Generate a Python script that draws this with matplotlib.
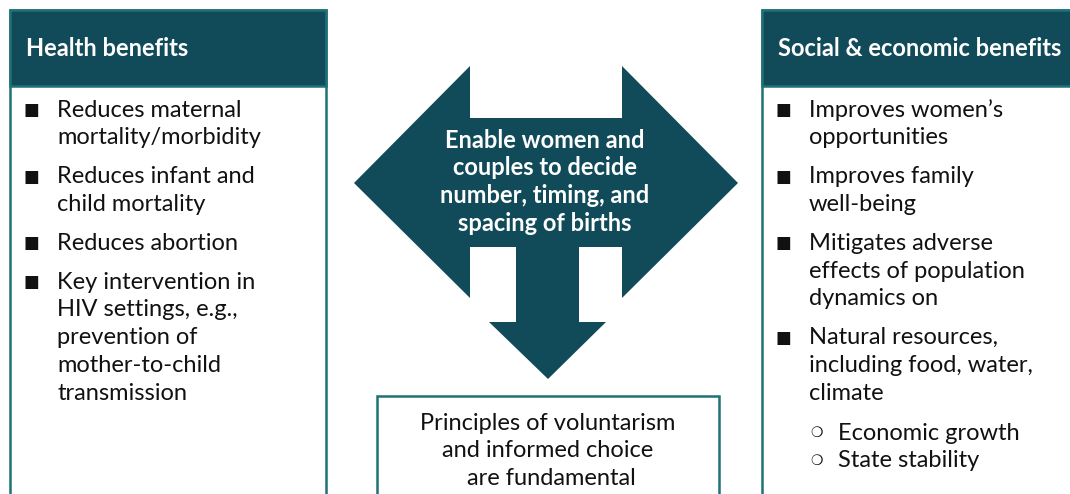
import matplotlib.pyplot as plt
from matplotlib.patches import Rectangle, Polygon

# text content
left_title = 'Health benefits'
right_title = 'Social & economic benefits'
left_items = [
    ['Reduces maternal', 'mortality/morbidity'],
    ['Reduces infant and', 'child mortality'],
    ['Reduces abortion'],
    ['Key intervention in', 'HIV settings, e.g.,', 'prevention of',
     'mother-to-child', 'transmission'],
]
right_items = [
    ['Improves women\u2019s', 'opportunities'],
    ['Improves family', 'well-being'],
    ['Mitigates adverse', 'effects of population', 'dynamics on'],
    ['Natural resources,', 'including food, water,', 'climate'],
]
right_subitems = ['Economic growth', 'State stability']
center_lines = ['Enable women and', 'couples to decide',
                'number, timing, and', 'spacing of births']
bottom_lines = ['Principles of voluntarism', 'and informed choice',
                ' are fundamental']

dark = '#114b5a'
edge = '#1d7276'
fam = ['Lato', 'DejaVu Sans']
fs = 17

fig = plt.figure(figsize=(10.70, 4.94), dpi=100)
ax = fig.add_axes([0, 0, 1, 1])
ax.set_xlim(0, 1070)
ax.set_ylim(494, 0)
ax.axis('off')

# side boxes
for x0, x1, title in [(10, 326, left_title), (762, 1072, right_title)]:
    ax.add_patch(Rectangle((x0, 10), x1 - x0, 500, fc='white', ec=edge, lw=1.8))
    ax.add_patch(Rectangle((x0, 10), x1 - x0, 76, fc=dark, ec=edge, lw=1.8))
    ax.text(x0 + 16, 49, title, color='white', fontsize=fs, fontweight='bold',
            family=fam, va='center', ha='left')

# bottom box
ax.add_patch(Rectangle((377, 396), 342, 120, fc='white', ec=edge, lw=1.8))

# central arrow shape
arrow = [(354, 183), (470, 66), (470, 118), (622, 118), (622, 66), (738, 183),
         (622, 298), (622, 247), (579, 247), (579, 322), (606, 322), (548, 379),
         (489, 322), (516, 322), (516, 247), (470, 247), (470, 298)]
ax.add_patch(Polygon(arrow, closed=True, fc=dark, ec='none'))

lh = 27.8
for i, s in enumerate(center_lines):
    ax.text(545, 140 + i * lh, s, color='white', fontsize=fs, fontweight='bold',
            family=fam, ha='center', va='center')

for i, s in enumerate(bottom_lines):
    ax.text(548, 423 + i * lh, s, color='#111111', fontsize=fs,
            family=fam, ha='center', va='center')


def bullets(items, x_b, x_t, y0, gap):
    y = y0
    for item in items:
        ax.text(x_b, y, '\u25a0', fontsize=12, family=fam, color='#111111',
                ha='center', va='center')
        for ln in item:
            ax.text(x_t, y, ln, fontsize=fs, family=fam, color='#111111',
                    ha='left', va='center')
            y += lh
        y += gap
    return y


bullets(left_items, 31, 57, 110, 11)
bullets(right_items, 783, 809, 110, 11)
y = 433
for s in right_subitems:
    ax.text(817, y, '\u274d', fontsize=10, family=fam, color='#111111',
            ha='center', va='center')
    ax.text(838, y, s, fontsize=fs, family=fam, color='#111111',
            ha='left', va='center')
    y += lh

fig.savefig('out.png', dpi=100)
